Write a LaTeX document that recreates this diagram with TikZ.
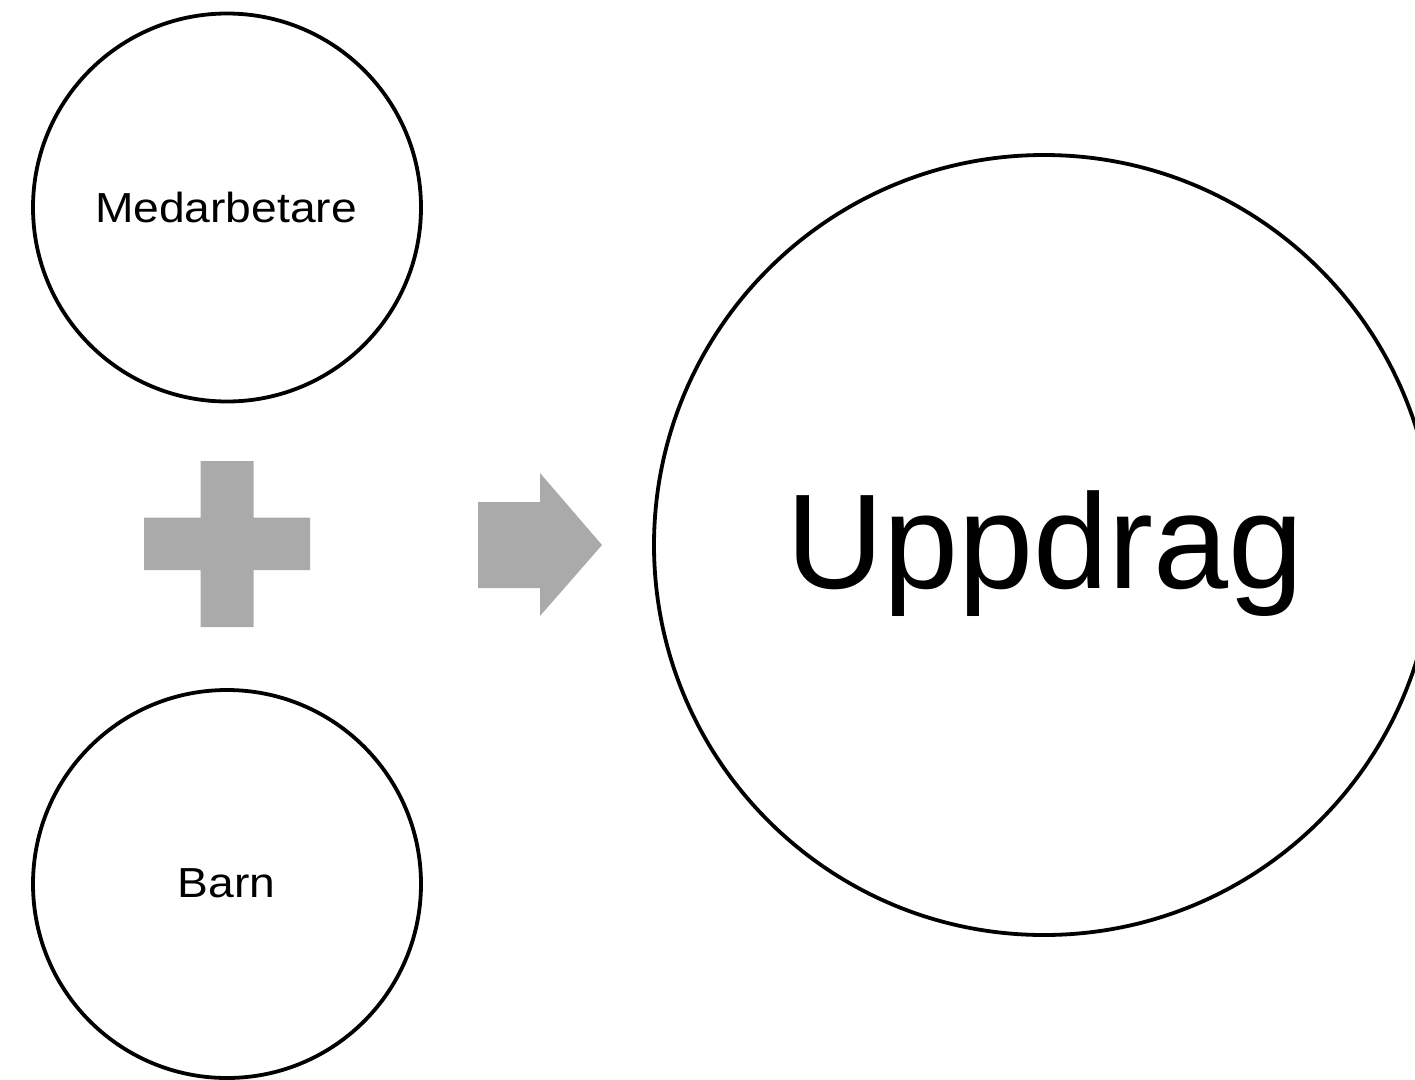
\documentclass[tikz,border=0pt]{standalone}
\usepackage{fontspec}
\setmainfont{Liberation Sans}
\definecolor{shapegray}{RGB}{170,170,170}
\begin{document}
\begin{tikzpicture}[x=1pt,y=-1pt,
  ring/.style={circle, draw=black, line width=3.8pt, inner sep=0pt, outer sep=0pt},
  smalltext/.style={anchor=base, inner sep=0pt, font=\fontsize{42}{50}\selectfont, xscale=1.1},
  bigtext/.style={anchor=base, inner sep=0pt, font=\fontsize{135}{160}\selectfont},
  graysym/.style={fill=shapegray, draw=none}]
\clip (0,0) rectangle (1415,1079);
\node[ring, minimum size=388pt] (med) at (227,207.5) {};
\node[smalltext] (medtxt) at (226,222) {Medarbetare};
\node[ring, minimum size=388pt] (barn) at (227,884) {};
\node[smalltext] (barntxt) at (226.5,897.5) {Barn};
\node[ring, minimum size=780pt] (upp) at (1044,545) {};
\node[bigtext] (upptxt) at (1045,588.5) {Uppdrag};
% plus sign
\fill[graysym] (200.5,461) -- (253.5,461) -- (253.5,517.5) -- (310,517.5) -- (310,570) -- (253.5,570)
  -- (253.5,627) -- (200.5,627) -- (200.5,570) -- (144,570) -- (144,517.5) -- (200.5,517.5) -- cycle;
% arrow
\fill[graysym] (478,502) -- (540,502) -- (540,473) -- (602,545) -- (540,616) -- (540,588) -- (478,588) -- cycle;
\end{tikzpicture}
\end{document}
